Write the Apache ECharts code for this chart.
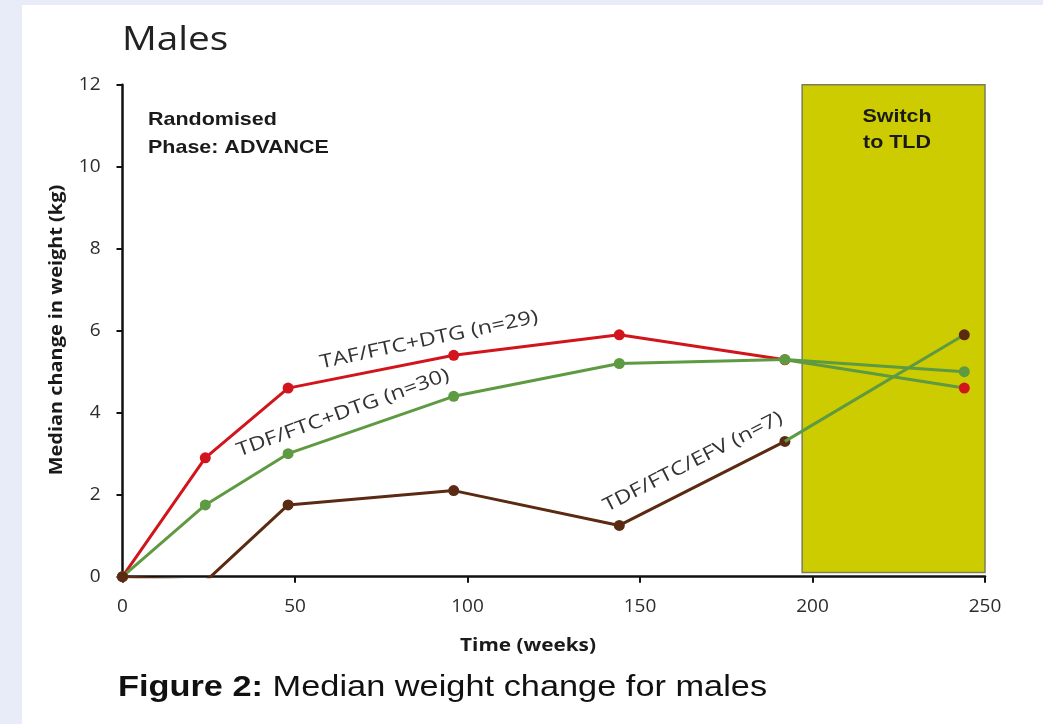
<!DOCTYPE html>
<html>
<head>
<meta charset="utf-8">
<title>Median weight change for males</title>
<script src="https://cdn.jsdelivr.net/npm/echarts@6/dist/echarts.min.js"></script>
<style>
  html, body { margin: 0; padding: 0; width: 1043px; height: 724px; background: #e8ecf8; overflow: hidden; }
  #sheet { position: absolute; left: 22px; top: 5px; right: 0; bottom: 0; background: #ffffff; }
  #chart { position: absolute; left: 0; top: 0; width: 1043px; height: 724px; }
</style>
</head>
<body>
<div id="sheet"></div>
<div id="chart"></div>
<script>
// Visit weeks during the randomised phase, and the follow-up visit after the switch
const weeks = [0, 24, 48, 96, 144, 192];
const switchWeeks = [192, 244];

// Median change in weight (kg) per arm, randomised phase
const tafFtcDtg = [0, 2.9, 4.6, 5.4, 5.9, 5.29];
const tdfFtcDtg = [0, 1.75, 3.0, 4.4, 5.2, 5.3];
const tdfFtcEfv = [0, -0.12, 1.75, 2.1, 1.25, 3.3];

// Median change at the visit after switching to TLD (same arm order)
const afterSwitch = [4.6, 5.0, 5.9];

// Switch period shading: weeks and kg range
const switchWeekRange = [197, 250.5];
const switchKgRange = [0.1, 12.1];

// Axis ticks
const xTicks = [0, 50, 100, 150, 200, 250];
const yTicks = [0, 2, 4, 6, 8, 10, 12];

const armNames = ['TAF/FTC+DTG (n=29)', 'TDF/FTC+DTG (n=30)', 'TDF/FTC/EFV (n=7)'];
const armColors = ['#d2141c', '#5e9a42', '#5a2a12'];
const switchLineColor = '#5e9a42';

const arms = [tafFtcDtg, tdfFtcDtg, tdfFtcEfv];

const chart = echarts.init(document.getElementById('chart'), null, { renderer: 'canvas' });

const mainSeries = arms.map((vals, i) => ({
  name: armNames[i],
  type: 'line',
  data: weeks.map((w, k) => [w, vals[k]]),
  symbol: 'circle',
  symbolSize: 11,
  clip: true,
  z: 3 + i,
  lineStyle: { color: armColors[i], width: 3 },
  itemStyle: { color: armColors[i] },
  emphasis: { disabled: true }
}));

const switchSeries = arms.map((vals, i) => ({
  name: armNames[i] + ' switch',
  type: 'line',
  data: [
    { value: [switchWeeks[0], vals[vals.length - 1]], symbol: 'none' },
    { value: [switchWeeks[1], afterSwitch[i]] }
  ],
  symbol: 'circle',
  symbolSize: 11,
  clip: true,
  z: 7 + i,
  lineStyle: { color: switchLineColor, width: 3 },
  itemStyle: { color: armColors[i] },
  emphasis: { disabled: true }
}));

const shadeSeries = {
  name: 'switch',
  type: 'line',
  data: [],
  z: 1,
  clip: false,
  markArea: {
    silent: true,
    itemStyle: { color: '#cccc00', borderColor: '#7d7d55', borderWidth: 1.5 },
    label: { show: false },
    data: [[
      { coord: [switchWeekRange[0], switchKgRange[0]] },
      { coord: [switchWeekRange[1], switchKgRange[1]] }
    ]]
  }
};

const sans = '"Open Sans", Lato, sans-serif';
const arial = '"Liberation Sans", Arial, sans-serif';
const STRETCH = 1.13;

// Horizontally stretched text helper
function label(text, x, y, font, opts) {
  opts = opts || {};
  return {
    type: 'text', x: x, y: y, z: 20,
    rotation: opts.rotation || 0,
    scaleX: opts.scaleX || STRETCH, originX: 0, originY: 0,
    style: {
      text: text, font: font, fill: opts.fill || '#222',
      align: opts.align || 'left', verticalAlign: opts.verticalAlign || 'top',
      lineHeight: opts.lineHeight, rich: opts.rich
    }
  };
}

const slopeLabel = { align: 'center', verticalAlign: 'middle', fill: '#333', scaleX: 1.23 };

chart.setOption({
  animation: false,
  backgroundColor: 'transparent',
  grid: { left: 122.5, right: 58, top: 84.7, bottom: 147.3, containLabel: false },
  xAxis: {
    type: 'value',
    min: xTicks[0],
    max: xTicks[xTicks.length - 1],
    interval: 50,
    axisLine: { show: true, onZero: false, lineStyle: { color: '#111', width: 2.5 } },
    axisTick: { show: true, inside: false, length: 6, lineStyle: { color: '#111', width: 2 } },
    axisLabel: { margin: 20, fontFamily: sans, fontSize: 19, color: '#2c2c2c' },
    splitLine: { show: false }
  },
  yAxis: {
    type: 'value',
    min: yTicks[0],
    max: yTicks[yTicks.length - 1],
    interval: 2,
    axisLine: { show: true, onZero: false, lineStyle: { color: '#111', width: 2.5 } },
    axisTick: { show: true, inside: false, length: 6, lineStyle: { color: '#111', width: 2 } },
    axisLabel: { margin: 22, fontFamily: sans, fontSize: 19, color: '#2c2c2c' },
    splitLine: { show: false }
  },
  series: [shadeSeries].concat(mainSeries, switchSeries),
  graphic: [
    label('Males', 122, 25, '32px ' + sans, { scaleX: 1.21 }),
    label('Randomised\nPhase: ADVANCE', 148, 106, 'bold 19px ' + arial, { fill: '#1a1a1a', lineHeight: 28 }),
    label('Switch\nto TLD', 897, 104, 'bold 19px ' + arial, { fill: '#1a1a1a', lineHeight: 26, align: 'center' }),
    label(armNames[0], 429, 340, '19px ' + sans, Object.assign({ rotation: 12 * Math.PI / 180 }, slopeLabel)),
    label(armNames[1], 343, 413, '19px ' + sans, Object.assign({ rotation: 20 * Math.PI / 180 }, slopeLabel)),
    label(armNames[2], 693, 462, '19px ' + sans, Object.assign({ rotation: 27 * Math.PI / 180 }, slopeLabel)),
    // axis titles
    label('Time (weeks)', 528, 646, 'bold 17px ' + sans, { scaleX: 1.22, align: 'center', verticalAlign: 'middle', fill: '#1a1a1a' }),
    label('Median change in weight (kg)', 57, 330, 'bold 17px ' + sans, { scaleX: 1.17, rotation: Math.PI / 2, align: 'center', verticalAlign: 'middle', fill: '#1a1a1a' }),
    // caption
    label('{b|Figure 2:} {r|Median weight change for males}', 118, 673, '30px ' + arial, {
      scaleX: 1.145,
      fill: '#111',
      rich: {
        b: { font: 'bold 30px ' + arial, fill: '#111' },
        r: { font: '30px ' + arial, fill: '#111' }
      }
    })
  ]
});
</script>
</body>
</html>
